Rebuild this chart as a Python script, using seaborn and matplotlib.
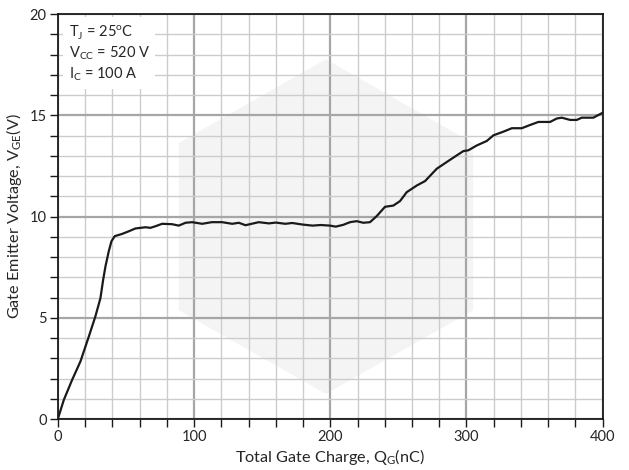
import numpy as np
import pandas as pd
import matplotlib
matplotlib.use("Agg")
import matplotlib.pyplot as plt
from matplotlib.patches import Polygon
from matplotlib.ticker import MultipleLocator
import seaborn as sns

# Gate charge curve
qg_nc = [0, 4.4, 10.5, 16.6, 22.8, 27.6, 31.3, 33.3, 35.0, 37.4, 39.4, 41.8,
         47.2, 52.1, 57.0, 64.4, 68.0, 71.7, 76.6, 83.9, 88.8, 93.7, 98.6,
         106, 113, 120.6, 128, 132.9, 137.8, 147.5, 155, 160, 167, 172, 180,
         187, 193, 199.9, 204, 209.6, 214.5, 219.4, 224.3, 229.2, 234.1,
         240.2, 246.3, 251.2, 256.1, 263.5, 269.6, 278.2, 285.5, 292.9,
         297.7, 301.4, 307.6, 314.9, 319.8, 327.1, 333.3, 340.6, 346.7,
         352.8, 361.4, 366.3, 370, 376.1, 381, 384.6, 393.1, 399.3, 400]
vge = [0, 0.94, 1.93, 2.84, 4.08, 5.07, 5.97, 6.88, 7.54, 8.28, 8.78, 9.03,
       9.14, 9.27, 9.41, 9.47, 9.44, 9.52, 9.64, 9.62, 9.55, 9.69, 9.72,
       9.64, 9.72, 9.72, 9.64, 9.69, 9.57, 9.72, 9.66, 9.70, 9.64, 9.68,
       9.60, 9.55, 9.58, 9.55, 9.50, 9.59, 9.72, 9.77, 9.69, 9.72, 10.02,
       10.48, 10.54, 10.76, 11.20, 11.53, 11.75, 12.36, 12.69, 13.02,
       13.23, 13.27, 13.51, 13.73, 14.01, 14.19, 14.36, 14.36, 14.52,
       14.67, 14.67, 14.84, 14.88, 14.77, 14.77, 14.88, 14.88, 15.10, 15.12]

conditions = [r"T$_\mathrm{J}$ = 25$^\mathrm{o}$C",
              r"V$_\mathrm{CC}$ = 520 V",
              r"I$_\mathrm{C}$ = 100 A"]

df = pd.DataFrame({"Qg": qg_nc, "Vge": vge})

sns.set_style("white")
plt.rcParams["font.family"] = ["Lato", "DejaVu Sans"]
plt.rcParams["mathtext.fontset"] = "custom"
plt.rcParams["mathtext.rm"] = "Lato"

fig = plt.figure(figsize=(6.29, 4.70), dpi=100)
ax = fig.add_axes([0.0919, 0.1085, 0.8663, 0.8617])

# faint logo watermark behind the grid (axes fractions)
cx, cy, r, w = 0.492, 0.475, 0.413, 0.27
hexagon = [(cx, cy + r), (cx + w, cy + r / 2), (cx + w, cy - r / 2),
           (cx, cy - r), (cx - w, cy - r / 2), (cx - w, cy + r / 2)]
ax.add_patch(Polygon(hexagon, closed=True, transform=ax.transAxes,
                     facecolor="#f4f4f4", edgecolor="none", zorder=0))

sns.lineplot(data=df, x="Qg", y="Vge", ax=ax, color="#1a1a1a",
             linewidth=1.6, zorder=3)

ax.set_xlim(0, 400)
ax.set_ylim(0, 20)
ax.xaxis.set_major_locator(MultipleLocator(100))
ax.xaxis.set_minor_locator(MultipleLocator(20))
ax.yaxis.set_major_locator(MultipleLocator(5))
ax.yaxis.set_minor_locator(MultipleLocator(1))

ax.grid(which="major", color="#a6a6a6", linewidth=1.6, zorder=1)
ax.grid(which="minor", color="#cccccc", linewidth=1.0, zorder=1)
ax.set_axisbelow(True)

ax.tick_params(which="both", direction="out", color="#1a1a1a",
               bottom=True, left=True, top=False, right=False)
ax.tick_params(which="major", length=6, width=1, labelsize=10.5, pad=2)
ax.tick_params(which="minor", length=6, width=1)

for s in ax.spines.values():
    s.set_color("#1a1a1a")
    s.set_linewidth(1.3)

ax.set_xlabel(r"Total Gate Charge, Q$_\mathrm{G}$(nC)", fontsize=11.7, labelpad=2)
ax.set_ylabel(r"Gate Emitter Voltage, V$_\mathrm{GE}$(V)", fontsize=11.7, labelpad=4)

ax.text(0.02, 0.978, "\n".join(conditions), transform=ax.transAxes,
        fontsize=10.5, va="top", ha="left", linespacing=1.25,
        bbox=dict(facecolor="white", edgecolor="none", pad=4), zorder=4)

fig.savefig("out.png", dpi=100)
